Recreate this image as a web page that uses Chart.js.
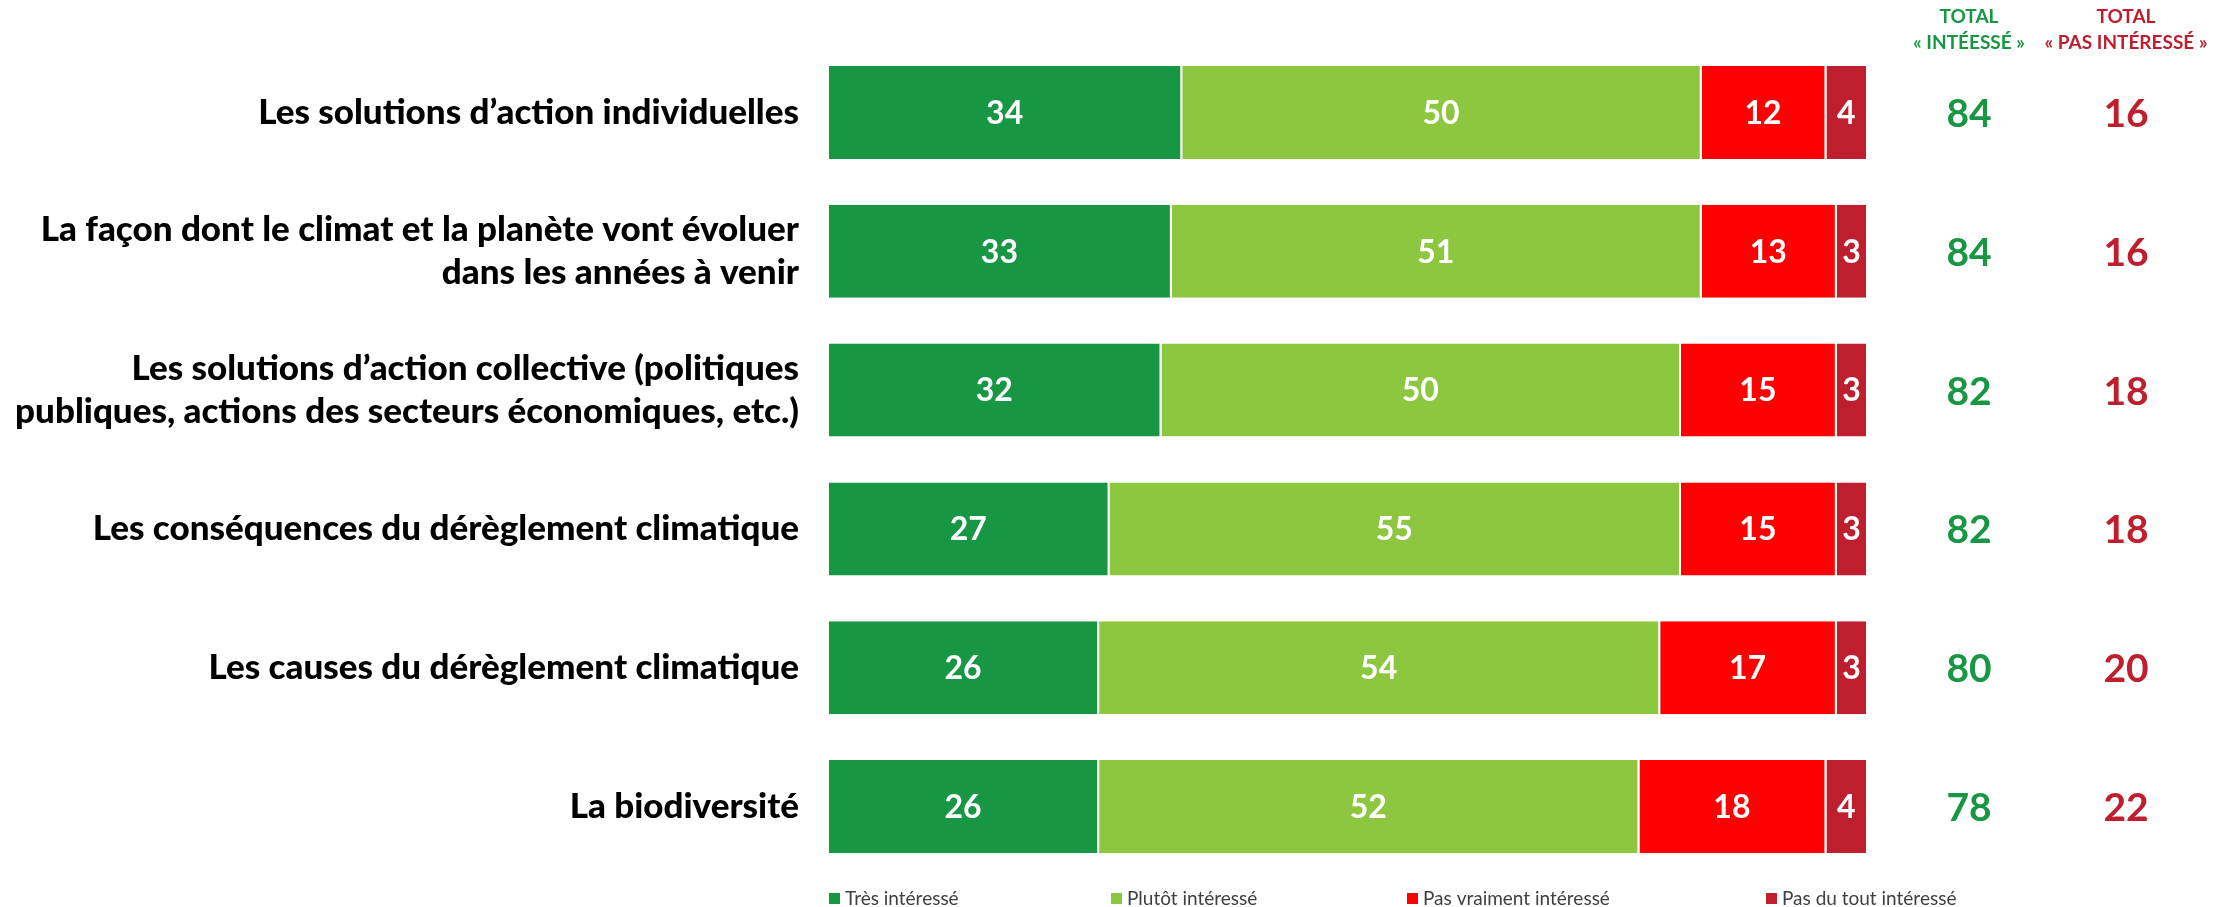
<!DOCTYPE html>
<html>
<head>
<meta charset="utf-8">
<script src="https://cdn.jsdelivr.net/npm/chart.js@4"></script>
<style>
  body { margin: 0; background: #fff; }
</style>
</head>
<body>
<canvas id="grafico" width="2233" height="907"></canvas>
<script>
const categories = [
  "Les solutions d’action individuelles",
  ["La façon dont le climat et la planète vont évoluer", "dans les années à venir"],
  ["Les solutions d’action collective (politiques", "publiques, actions des secteurs économiques, etc.)"],
  "Les conséquences du dérèglement climatique",
  "Les causes du dérèglement climatique",
  "La biodiversité"
];
const tresInteresse = [34, 33, 32, 27, 26, 26];
const plutotInteresse = [50, 51, 50, 55, 54, 52];
const pasVraiment = [12, 13, 15, 15, 17, 18];
const pasDuTout = [4, 3, 3, 3, 3, 4];
const totalInteresse = [84, 84, 82, 82, 80, 78];
const totalPasInteresse = [16, 16, 18, 18, 20, 22];
const seriesNames = ["Très intéressé", "Plutôt intéressé", "Pas vraiment intéressé", "Pas du tout intéressé"];
const colors = ["#179744", "#8DC63F", "#FF0000", "#BE1E2D"];

const VERDE = "#179744", VERMELHO = "#BE1E2D";

const segmentLabels = {
  id: "segmentLabels",
  afterDatasetsDraw(chart) {
    const ctx = chart.ctx;
    ctx.save();
    ctx.font = "bold 32px Lato";
    ctx.fillStyle = "#fff";
    ctx.textAlign = "center";
    ctx.textBaseline = "middle";
    chart.data.datasets.forEach((ds, i) => {
      chart.getDatasetMeta(i).data.forEach((bar, j) => {
        const { x, base, y } = bar.getProps(["x", "base", "y"], true);
        ctx.fillText(ds.data[j], (x + base) / 2 - 1, y + 1);
      });
    });
    ctx.restore();
  }
};

const totals = {
  id: "totals",
  afterDraw(chart) {
    const ctx = chart.ctx;
    const yScale = chart.scales.y;
    const x1 = 1969, x2 = 2126;
    ctx.save();
    ctx.textAlign = "center";
    ctx.textBaseline = "middle";
    ctx.font = "bold 19px Lato";
    ctx.fillStyle = VERDE;
    ctx.fillText("TOTAL", x1, 17);
    ctx.fillText("« INTÉESSÉ »", x1, 43);
    ctx.fillStyle = VERMELHO;
    ctx.fillText("TOTAL", x2, 17);
    ctx.fillText("« PAS INTÉRESSÉ »", x2, 43);
    ctx.font = "bold 39px Lato";
    categories.forEach((c, j) => {
      const y = yScale.getPixelForValue(j);
      ctx.fillStyle = VERDE;
      ctx.fillText(totalInteresse[j], x1, y + 2);
      ctx.fillStyle = VERMELHO;
      ctx.fillText(totalPasInteresse[j], x2, y + 2);
    });
    // legenda
    const legX = [829, 1111, 1407, 1766];
    ctx.font = "19px Lato";
    ctx.textAlign = "left";
    seriesNames.forEach((n, i) => {
      ctx.fillStyle = colors[i];
      ctx.fillRect(legX[i], 893, 11, 11);
      ctx.fillStyle = "#404040";
      ctx.fillText(n, legX[i] + 16, 899);
    });
    ctx.restore();
  }
};

const ctx = document.getElementById("grafico").getContext("2d");
new Chart(ctx, {
  type: "bar",
  data: {
    labels: categories,
    datasets: [tresInteresse, plutotInteresse, pasVraiment, pasDuTout].map((d, i) => ({
      label: seriesNames[i],
      data: d,
      backgroundColor: colors[i],
      borderColor: "#fff",
      borderWidth: { right: 2, top: 0, bottom: 0, left: 0 },
      borderSkipped: false,
      categoryPercentage: 1,
      barPercentage: 0.67,
    })),
  },
  options: {
    indexAxis: "y",
    responsive: false,
    animation: false,
    layout: { padding: { top: 43, bottom: 31, right: 365, left: 0 } },
    plugins: { legend: { display: false }, tooltip: { enabled: false } },
    scales: {
      x: { stacked: true, min: 0, max: 100, display: false },
      y: {
        stacked: true,
        grid: { display: false },
        border: { display: false },
        afterFit(scale) {
          scale.width = 829;
          scale.paddingTop = 0;
          scale.paddingBottom = 0;
        },
        ticks: {
          color: "#000",
          font: { family: "Lato", weight: "900", size: 35, lineHeight: 1.22 },
          padding: 22,
        },
      },
    },
  },
  plugins: [segmentLabels, totals],
});
</script>
</body>
</html>
